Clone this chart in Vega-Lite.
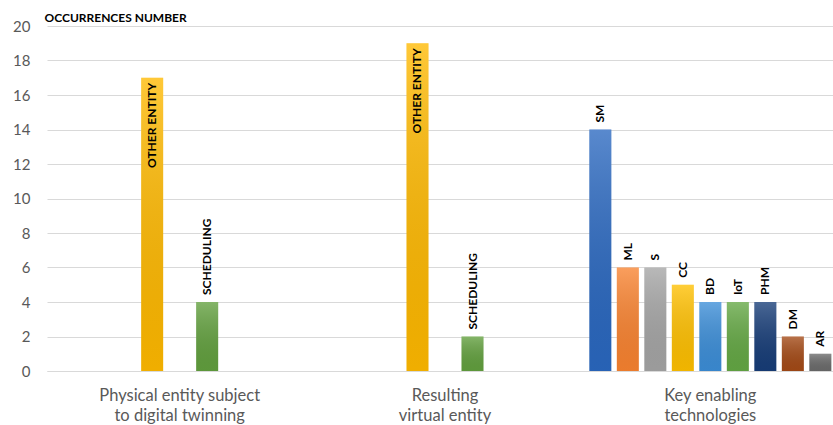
{
  "$schema": "https://vega.github.io/schema/vega-lite/v6.json",
  "width": 786,
  "height": 345,
  "autosize": "none",
  "padding": {"left": 47, "top": 26, "right": 0, "bottom": 54},
  "background": "white",
  "config": {"view": {"stroke": null}, "font": "Lato"},
  "data": {
    "values": [
      {"group": "Physical entity subject to digital twinning", "label": "OTHER ENTITY", "slot": 3, "value": 17},
      {"group": "Physical entity subject to digital twinning", "label": "SCHEDULING", "slot": 5, "value": 4},
      {"group": "Resulting virtual entity", "label": "OTHER ENTITY", "slot": 3, "value": 19},
      {"group": "Resulting virtual entity", "label": "SCHEDULING", "slot": 5, "value": 2},
      {"group": "Key enabling technologies", "label": "SM", "slot": 0, "value": 14},
      {"group": "Key enabling technologies", "label": "ML", "slot": 1, "value": 6},
      {"group": "Key enabling technologies", "label": "S", "slot": 2, "value": 6},
      {"group": "Key enabling technologies", "label": "CC", "slot": 3, "value": 5},
      {"group": "Key enabling technologies", "label": "BD", "slot": 4, "value": 4},
      {"group": "Key enabling technologies", "label": "IoT", "slot": 5, "value": 4},
      {"group": "Key enabling technologies", "label": "PHM", "slot": 6, "value": 4},
      {"group": "Key enabling technologies", "label": "DM", "slot": 7, "value": 2},
      {"group": "Key enabling technologies", "label": "AR", "slot": 8, "value": 1}
    ]
  },
  "encoding": {
    "x": {
      "field": "group",
      "type": "nominal",
      "sort": ["Physical entity subject to digital twinning", "Resulting virtual entity", "Key enabling technologies"],
      "scale": {"range": [0, 796], "paddingInner": 0, "paddingOuter": 0},
      "axis": {
        "title": null,
        "labelAngle": 0,
        "ticks": false,
        "grid": false,
        "domainColor": "#d9d9d9",
        "domainWidth": 1,
        "labelFontSize": 16.5,
        "labelColor": "#595959",
        "labelPadding": 16,
        "labelLineHeight": 20,
        "labelExpr": "datum.value == 'Physical entity subject to digital twinning' ? ['Physical entity subject', 'to digital twinning'] : datum.value == 'Resulting virtual entity' ? ['Resulting', 'virtual entity'] : ['Key enabling', 'technologies']"
      }
    },
    "xOffset": {
      "field": "slot",
      "type": "ordinal",
      "scale": {"domain": [0, 1, 2, 3, 4, 5, 6, 7, 8], "paddingInner": 0.2, "paddingOuter": 0.424}
    },
    "y": {
      "field": "value",
      "type": "quantitative",
      "scale": {"domain": [0, 20], "nice": false},
      "axis": {
        "values": [0, 2, 4, 6, 8, 10, 12, 14, 16, 18, 20],
        "ticks": false,
        "domain": false,
        "gridColor": "#d9d9d9",
        "gridWidth": 1,
        "labelFontSize": 15,
        "labelColor": "#595959",
        "labelPadding": 17,
        "title": "OCCURRENCES NUMBER",
        "titleAngle": 0,
        "titleAlign": "left",
        "titleBaseline": "alphabetic",
        "titleX": -3,
        "titleY": -5,
        "titleFontSize": 12,
        "titleFontWeight": "bold",
        "titleColor": "#000000"
      }
    }
  },
  "layer": [
    {
      "mark": {"type": "bar"},
      "encoding": {
        "color": {
          "field": "label",
          "type": "nominal",
          "legend": null,
          "scale": {
            "domain": ["OTHER ENTITY", "SCHEDULING", "SM", "ML", "S", "CC", "BD", "IoT", "PHM", "DM", "AR"],
            "range": ["#FFB900", "#62A03E", "#2A68C0", "#F98330", "#A5A5A5", "#FFC000", "#3C8ED8", "#64A844", "#173D78", "#A44A16", "#6B6B6B"]
          }
        }
      }
    },
    {
      "mark": {
        "type": "bar",
        "color": {
          "gradient": "linear",
          "x1": 0, "y1": 0, "x2": 0, "y2": 1,
          "stops": [
            {"offset": 0, "color": "rgba(255,255,255,0.22)"},
            {"offset": 1, "color": "rgba(0,0,0,0.06)"}
          ]
        }
      }
    },
    {
      "transform": [{"filter": "datum.value < 15"}],
      "mark": {"type": "text", "angle": 270, "align": "left", "baseline": "middle", "dx": 7, "fontSize": 12, "fontWeight": "bold", "color": "#000000"},
      "encoding": {"text": {"field": "label"}}
    },
    {
      "transform": [{"filter": "datum.value >= 15"}],
      "mark": {"type": "text", "angle": 270, "align": "right", "baseline": "middle", "dx": -5, "fontSize": 12, "fontWeight": "bold", "color": "#000000"},
      "encoding": {"text": {"field": "label"}}
    }
  ]
}
